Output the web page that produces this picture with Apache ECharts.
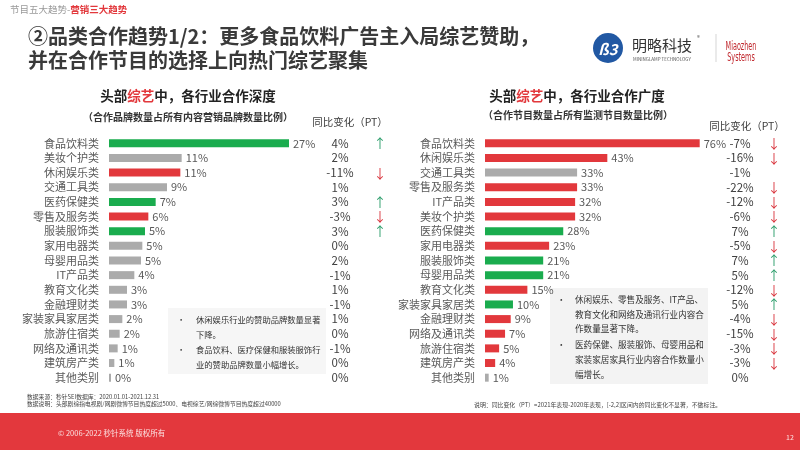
<!DOCTYPE html>
<html><head><meta charset="utf-8">
<script src="https://cdn.jsdelivr.net/npm/echarts@6/dist/echarts.min.js"></script>
<style>html,body{margin:0;padding:0;background:#fff}#c{width:800px;height:450px}</style>
</head><body><div id="c"></div><script>
// ---- data ----
const depthCategories = ['食品饮料类','美妆个护类','休闲娱乐类','交通工具类','医药保健类','零售及服务类','服装服饰类','家用电器类','母婴用品类','IT产品类','教育文化类','金融理财类','家装家具家居类','旅游住宿类','网络及通讯类','建筑房产类','其他类别'];
const depthValues = [27.0, 10.9, 10.7, 8.7, 7.0, 5.9, 5.4, 5.0, 4.8, 3.8, 2.7, 2.7, 2.0, 1.6, 1.3, 0.8, 0.3];
const depthChange = [4, 2, -11, 1, 3, -3, 3, 0, 2, -1, 1, -1, 1, 0, -1, 0, 0];

const breadthCategories = ['食品饮料类','休闲娱乐类','交通工具类','零售及服务类','IT产品类','美妆个护类','医药保健类','家用电器类','服装服饰类','母婴用品类','教育文化类','家装家具家居类','金融理财类','网络及通讯类','旅游住宿类','建筑房产类','其他类别'];
const breadthValues = [76.0, 43.3, 32.6, 32.6, 31.9, 31.9, 27.7, 22.7, 20.6, 20.6, 15.0, 9.9, 9.1, 7.1, 5.0, 3.6, 1.3];
const breadthChange = [-7, -16, -1, -22, -12, -6, 7, -5, 7, 5, -12, 5, -4, -15, -3, -3, 0];

// ---- styling ----
const GREEN = '#1aac4e', RED = '#e2383c', GREY = '#ababab';
const FONT = '"Noto Sans CJK SC", "Noto Sans", sans-serif';
function barColor(ch){ return ch > 2 ? GREEN : (ch < -2 ? RED : GREY); }
function barData(vals, chg){ return vals.map((v,i)=>({value:v, itemStyle:{color:barColor(chg[i])}})); }
function arrow(ch){ return ch > 2 ? '{u|↑}' : (ch < -2 ? '{d|↓}' : ''); }

function yAxes(gi, cats, chg, valMargin, arrMargin){
  const base = {type:'category', gridIndex:gi, data:cats, inverse:true,
    axisLine:{show:false}, axisTick:{show:false}, splitLine:{show:false}};
  return [
    Object.assign({}, base, {position:'left', axisLabel:{interval:0, margin:10, color:'#5a5a5a', fontSize:11, fontFamily:FONT}}),
    Object.assign({}, base, {position:'right', axisLabel:{interval:0, margin:valMargin, align:'center', color:'#404040', fontSize:11.5, fontFamily:FONT,
      formatter:(v,i)=>chg[i]+'%'}}),
    Object.assign({}, base, {position:'right', axisLabel:{interval:0, margin:arrMargin, align:'center', fontSize:13, fontFamily:FONT,
      formatter:(v,i)=>arrow(chg[i]),
      rich:{u:{color:'#2a9d6a', fontSize:13, fontFamily:FONT}, d:{color:'#d9363e', fontSize:13, fontFamily:FONT}}}})
  ];
}

const labelCfg = {show:true, position:'right', distance:4, color:'#595959', fontSize:11, fontFamily:FONT,
  formatter:p=>Math.round(p.value)+'%'};

function txt(x,y,text,opt,extra){
  return Object.assign({type:'text', x:x, y:y, silent:true, z:10,
    style:Object.assign({text:text, fill:'#333', font:'12px '+FONT, textVerticalAlign:'middle'}, opt||{})}, extra||{});
}
const NL = '8.3px ' + FONT, NR = '8.6px ' + FONT;

const graphics = [
  // top nav
  {type:'text', x:10, y:9, style:{rich:{g:{fill:'#9a9a9a', fontSize:9.5, fontFamily:FONT}, r:{fill:'#e2383c', fontSize:9.5, fontWeight:'bold', fontFamily:FONT}},
    text:'{g|节目五大趋势-}{r|营销三大趋势}', textVerticalAlign:'middle'}},
  txt(28, 36, '②品类合作趋势1/2：更多食品饮料广告主入局综艺赞助，', {font:'bold 20px '+FONT, fill:'#3a3a3a'}),
  txt(28, 60, '并在合作节目的选择上向热门综艺聚集', {font:'bold 20px '+FONT, fill:'#3a3a3a'}),
  // logo
  {type:'circle', shape:{cx:608, cy:48, r:15}, style:{fill:'#2158a3'}},
  txt(608, 49, 'ß3', {font:'italic bold 15px '+FONT, fill:'#fff', textAlign:'center'}),
  txt(632, 45, '明略科技', {font:'15px '+FONT, fill:'#333'}),
  txt(697, 38, '®', {font:'6px '+FONT, fill:'#555'}),
  txt(633, 59, 'MININGLAMP TECHNOLOGY', {font:'4.5px '+FONT, fill:'#555'}),
  {type:'line', shape:{x1:716, y1:34, x2:716, y2:62}, style:{stroke:'#d5d5d5', lineWidth:1}},
  txt(741, 47, 'Miaozhen', {font:'12px "DejaVu Sans Condensed", sans-serif', fill:'#c0272d', textAlign:'center'}, {scaleX:0.6}),
  txt(741, 58, 'Systems', {font:'12px "DejaVu Sans Condensed", sans-serif', fill:'#c0272d', textAlign:'center'}, {scaleX:0.6}),
  // left titles
  {type:'text', x:188, y:96, style:{rich:{a:{fill:'#222', fontSize:13.5, fontWeight:'bold', fontFamily:FONT}, b:{fill:'#e2383c', fontSize:13.5, fontWeight:'bold', fontFamily:FONT}},
    text:'{a|头部}{b|综艺}{a|中，各行业合作深度}', textAlign:'center', textVerticalAlign:'middle'}},
  txt(188, 117, '（合作品牌数量占所有内容营销品牌数量比例）', {font:'bold 10px '+FONT, fill:'#333', textAlign:'center'}),
  txt(350, 122, '同比变化（PT）', {font:'10.5px '+FONT, fill:'#404040', textAlign:'center'}),
  // right titles
  {type:'text', x:577, y:96, style:{rich:{a:{fill:'#222', fontSize:13.5, fontWeight:'bold', fontFamily:FONT}, b:{fill:'#e2383c', fontSize:13.5, fontWeight:'bold', fontFamily:FONT}},
    text:'{a|头部}{b|综艺}{a|中，各行业合作广度}', textAlign:'center', textVerticalAlign:'middle'}},
  txt(578, 115, '（合作节目数量占所有监测节目数量比例）', {font:'bold 10px '+FONT, fill:'#333', textAlign:'center'}),
  txt(747, 126, '同比变化（PT）', {font:'10.5px '+FONT, fill:'#404040', textAlign:'center'}),
  // annotation boxes
  {type:'rect', shape:{x:168, y:308, width:158, height:66}, style:{fill:'#f6f6f6'}, z:1},
  txt(177, 320, '•', {font:NL}),
  txt(196, 320, '休闲娱乐行业的赞助品牌数量显著', {font:NL}),
  txt(196, 335, '下降。', {font:NL}),
  txt(177, 350, '•', {font:NL}),
  txt(196, 350, '食品饮料、医疗保健和服装服饰行', {font:NL}),
  txt(196, 365, '业的赞助品牌数量小幅增长。', {font:NL}),
  {type:'rect', shape:{x:550, y:288, width:158, height:96}, style:{fill:'#f3f3f3'}, z:1},
  txt(557, 300, '•', {font:NR}),
  txt(575, 300, '休闲娱乐、零售及服务、IT产品、', {font:NR}),
  txt(575, 315, '教育文化和网络及通讯行业内容合', {font:NR}),
  txt(575, 329, '作数量显著下降。', {font:NR}),
  txt(557, 345, '•', {font:NR}),
  txt(575, 345, '医药保健、服装服饰、母婴用品和', {font:NR}),
  txt(575, 360, '家装家居家具行业内容合作数量小', {font:NR}),
  txt(575, 375, '幅增长。', {font:NR}),
  // footnotes
  txt(27, 397, '数据来源：秒针SEI数据库：2020.01.01-2021.12.31', {font:'5.8px '+FONT, fill:'#444'}),
  txt(27, 404, '数据说明：头部剧综指电视剧/网剧微博节目热度超过5000、电视综艺/网综微博节目热度超过40000', {font:'5.8px '+FONT, fill:'#444'}),
  txt(474, 405, '说明：同比变化（PT）=2021年表现-2020年表现，[-2,2]区间内的同比变化不显著，不做标注。', {font:'5.9px '+FONT, fill:'#444'}),
  // footer
  {type:'rect', shape:{x:0, y:413, width:800, height:37}, style:{fill:'#e3383d'}, z:1},
  txt(58, 433, '© 2006-2022 秒针系统 版权所有', {font:'7.5px '+FONT, fill:'#fbe0e0'}),
  txt(786, 437, '12', {font:'7px '+FONT, fill:'#fbe0e0'})
];

const chart = echarts.init(document.getElementById('c'));
chart.setOption({
  backgroundColor:'#fff',
  animation:false,
  grid:[{left:109, top:136, width:200, height:249}, {left:485, top:136, width:226, height:249}],
  xAxis:[{type:'value', gridIndex:0, min:0, max:30, show:false}, {type:'value', gridIndex:1, min:0, max:80, show:false}],
  yAxis:[].concat(yAxes(0, depthCategories, depthChange, 31, 71), yAxes(1, breadthCategories, breadthChange, 29, 63)),
  series:[
    {type:'bar', xAxisIndex:0, yAxisIndex:0, barWidth:8, data:barData(depthValues, depthChange), label:labelCfg},
    {type:'bar', xAxisIndex:1, yAxisIndex:3, barWidth:8, data:barData(breadthValues, breadthChange), label:labelCfg}
  ],
  graphic:graphics
});
</script></body></html>
